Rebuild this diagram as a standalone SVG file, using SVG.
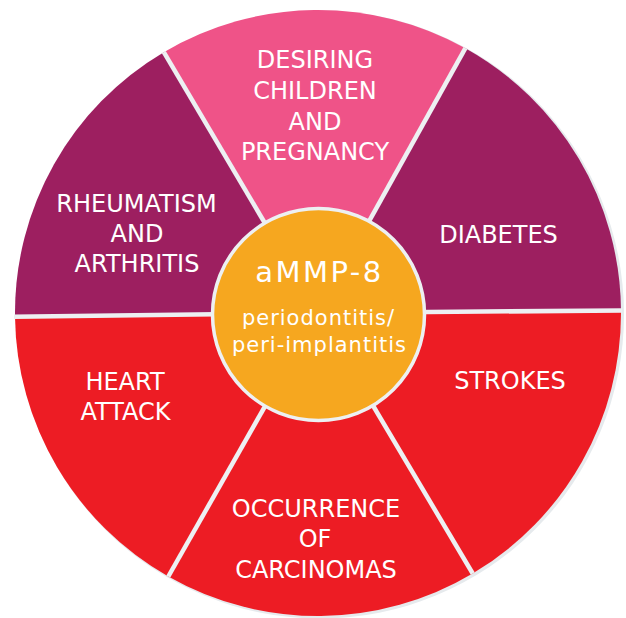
<svg xmlns="http://www.w3.org/2000/svg" width="626" height="618" viewBox="0 0 626 618">
  <style>
    .seg-pink { fill: #EF5388; }
    .seg-purple { fill: #9D1F60; }
    .seg-red { fill: #ED1C24; }
    .sep { stroke: #EDF0F2; stroke-width: 4.5; stroke-linecap: butt; fill: none; }
    .label { font-family: "DejaVu Sans", "Liberation Sans", sans-serif; font-size: 24px; fill: #FFFFFF; text-anchor: middle; }
    .hub-title { font-family: "DejaVu Sans", "Liberation Sans", sans-serif; font-size: 29px; letter-spacing: 2.5px; fill: #FFFFFF; text-anchor: middle; }
    .hub-sub { font-family: "DejaVu Sans", "Liberation Sans", sans-serif; font-size: 21px; letter-spacing: 1px; fill: #FFFFFF; text-anchor: middle; }
  </style>

  <rect width="626" height="618" fill="#FFFFFF"/>

  <!-- faint rim behind the wheel -->
  <circle cx="320" cy="314.5" r="304" fill="#E6EAED"/>

  <g id="desiring-children">
    <path class="seg-pink" d="M318,313 L163.8,52.2 A303,303 0 0 1 465.4,48.2 Z"/>
    <text class="label" x="315" y="68">DESIRING</text>
    <text class="label" x="315" y="99">CHILDREN</text>
    <text class="label" x="315" y="129.5">AND</text>
    <text class="label" x="315" y="160">PREGNANCY</text>
  </g>

  <g id="diabetes">
    <path class="seg-purple" d="M318,313 L465.4,48.2 A303,303 0 0 1 621,310.4 Z"/>
    <text class="label" x="498.5" y="243">DIABETES</text>
  </g>

  <g id="strokes">
    <path class="seg-red" d="M318,313 L621,310.4 A303,303 0 0 1 472.7,573.5 Z"/>
    <text class="label" x="510" y="389">STROKES</text>
  </g>

  <g id="carcinomas">
    <path class="seg-red" d="M318,313 L472.7,573.5 A303,303 0 0 1 168.3,576.5 Z"/>
    <text class="label" x="316" y="517">OCCURRENCE</text>
    <text class="label" x="315" y="547">OF</text>
    <text class="label" x="316" y="578">CARCINOMAS</text>
  </g>

  <g id="heart-attack">
    <path class="seg-red" d="M318,313 L168.3,576.5 A303,303 0 0 1 15,316.7 Z"/>
    <text class="label" x="125" y="390">HEART</text>
    <text class="label" x="125.5" y="420">ATTACK</text>
  </g>

  <g id="rheumatism">
    <path class="seg-purple" d="M318,313 L15,316.7 A303,303 0 0 1 163.8,52.2 Z"/>
    <text class="label" x="136.5" y="212">RHEUMATISM</text>
    <text class="label" x="137" y="242">AND</text>
    <text class="label" x="137" y="272">ARTHRITIS</text>
  </g>

  <!-- dividers between the segments -->
  <g id="connectors">
    <line class="sep" x1="318" y1="313" x2="163.8" y2="52.2"/>
    <line class="sep" x1="318" y1="313" x2="465.4" y2="48.2"/>
    <line class="sep" x1="318" y1="313" x2="622" y2="310.4"/>
    <line class="sep" x1="318" y1="313" x2="472.7" y2="573.5"/>
    <line class="sep" x1="318" y1="313" x2="168.3" y2="576.5"/>
    <line class="sep" x1="318" y1="313" x2="14" y2="316.7"/>
  </g>

  <g id="hub">
    <circle cx="318.5" cy="314.5" r="106" fill="#F6A71F" stroke="#EDF0F2" stroke-width="3.5"/>
    <text class="hub-title" x="319.5" y="282">aMMP-8</text>
    <text class="hub-sub" x="318.5" y="325">periodontitis/</text>
    <text class="hub-sub" x="319.5" y="352">peri-implantitis</text>
  </g>
</svg>
